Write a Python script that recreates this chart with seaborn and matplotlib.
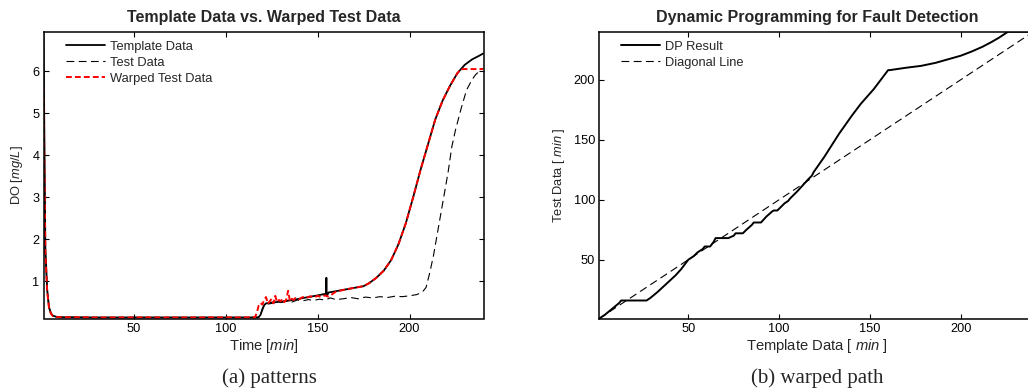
import matplotlib
matplotlib.use("Agg")
import matplotlib.pyplot as plt
import seaborn as sns

# --- panel (a): dissolved oxygen profiles -------------------------------
template_t = [1, 2, 3, 4, 5, 6, 8, 10, 15, 30, 60, 90, 110, 117, 118, 119, 120, 121, 122,
              125, 130, 135, 140, 145, 150, 154.6, 154.8, 155.0, 156, 160, 165, 170, 175, 178,
              182, 186, 190, 194, 198, 202, 206, 210, 214, 218, 222, 226, 230, 234, 238, 240]
template_do = [6.9, 1.8, 0.8, 0.38, 0.24, 0.18, 0.15, 0.14, 0.14, 0.135, 0.135, 0.135, 0.135,
               0.135, 0.14, 0.2, 0.32, 0.43, 0.47, 0.49, 0.51, 0.54, 0.58, 0.62, 0.66, 0.70,
               1.08, 0.64, 0.73, 0.76, 0.80, 0.84, 0.88, 0.95, 1.08, 1.25, 1.5, 1.88, 2.38,
               3.0, 3.65, 4.25, 4.85, 5.3, 5.65, 5.95, 6.15, 6.28, 6.37, 6.42]

test_t = [1, 2, 3, 4, 5, 6, 8, 10, 15, 30, 60, 90, 110, 118, 119, 120, 121, 122, 124, 126,
          128, 130, 133, 136, 139, 142, 145, 148, 151, 154, 157, 160, 164, 168, 172, 176, 180,
          184, 188, 192, 196, 200, 204, 207, 209, 211, 213, 215, 217, 219, 221, 223, 225, 228,
          231, 234, 236, 238, 240]
test_do = [5.6, 1.7, 0.75, 0.36, 0.23, 0.17, 0.15, 0.14, 0.14, 0.135, 0.135, 0.135, 0.135,
           0.14, 0.2, 0.35, 0.42, 0.45, 0.46, 0.48, 0.50, 0.49, 0.52, 0.50, 0.55, 0.53, 0.56,
           0.54, 0.57, 0.55, 0.60, 0.56, 0.58, 0.61, 0.58, 0.62, 0.60, 0.63, 0.61, 0.64, 0.63,
           0.65, 0.68, 0.74, 0.85, 1.2, 1.6, 2.1, 2.6, 3.1, 3.6, 4.2, 4.6, 5.1, 5.55, 5.8, 5.92,
           6.0, 6.07]

warp_t = [1, 2, 3, 4, 5, 6, 8, 10, 15, 30, 60, 90, 110, 116, 117, 118, 119, 120, 121, 122,
          123, 124, 125, 126, 127, 128, 129, 130, 131, 132, 133, 134, 135, 136, 137, 138, 140,
          142, 144, 146, 148, 150, 152, 154, 156, 158, 160, 165, 170, 175, 178, 182, 186, 190,
          194, 198, 202, 206, 210, 214, 218, 222, 226, 228, 240]
warp_do = [5.6, 1.7, 0.75, 0.36, 0.23, 0.17, 0.15, 0.14, 0.14, 0.135, 0.135, 0.135, 0.135,
           0.14, 0.25, 0.42, 0.48, 0.44, 0.56, 0.62, 0.46, 0.52, 0.58, 0.47, 0.65, 0.50, 0.55,
           0.52, 0.58, 0.50, 0.56, 0.77, 0.52, 0.58, 0.55, 0.60, 0.57, 0.62, 0.60, 0.64, 0.61,
           0.65, 0.62, 0.66, 0.63, 0.69, 0.75, 0.80, 0.84, 0.88, 0.95, 1.08, 1.25, 1.5, 1.88,
           2.38, 3.0, 3.65, 4.25, 4.85, 5.3, 5.65, 5.95, 6.05, 6.05]

# --- panel (b): warping path -------------------------------------------
dp_template = [1, 4, 8, 12, 13, 27, 29, 33, 38, 43, 46, 49, 50, 53, 55, 58, 59, 62, 64, 65,
               72, 75, 76, 80, 82, 85, 86, 90, 93, 96, 97, 99, 101, 103, 105, 106, 108, 110,
               113, 116, 118, 119, 125, 133, 140, 145, 152, 157, 160, 161, 170, 178, 186, 193,
               200, 206, 212, 217, 221, 224, 226, 241]
dp_test = [1, 4, 9, 14, 16, 16, 18, 23, 30, 37, 42, 48, 50, 53, 56, 59, 61, 61, 65, 68,
           68, 70, 72, 72, 75, 79, 81, 81, 86, 90, 91, 91, 94, 97, 99, 101, 104, 107,
           112, 117, 120, 123, 136, 155, 170, 180, 192, 202, 208, 208, 210, 211.5, 214, 217,
           220, 223.5, 227.5, 231.5, 235, 238, 240, 240]
diag_x = [1, 241]
diag_y = [1, 241]

x_ticks = [50, 100, 150, 200]
do_ticks = [1, 2, 3, 4, 5, 6]
path_ticks = [50, 100, 150, 200]

sns.set_style("white")
plt.rcParams["font.family"] = ["Liberation Sans", "DejaVu Sans"]
plt.rcParams["mathtext.fontset"] = "custom"
plt.rcParams["mathtext.rm"] = "Liberation Sans"
plt.rcParams["mathtext.it"] = "Liberation Sans:italic"

fig = plt.figure(figsize=(10.28, 3.90), dpi=100)
W, H = 1028.0, 390.0
ax1 = fig.add_axes([43.5 / W, 1 - 318.5 / H, (484 - 43.5) / W, (318.5 - 31.7) / H])
ax2 = fig.add_axes([599.3 / W, 1 - 318.5 / H, (1035.3 - 599.3) / W, (318.5 - 31.7) / H])

kw = dict(estimator=None, sort=False)
sns.lineplot(x=template_t, y=template_do, ax=ax1, color="black", linewidth=1.3,
             label="Template Data", **kw)
sns.lineplot(x=test_t, y=test_do, ax=ax1, color="black", linewidth=0.8,
             linestyle=(0, (7, 4)), label="Test Data", **kw)
sns.lineplot(x=warp_t, y=warp_do, ax=ax1, color="#ff0000", linewidth=1.4,
             linestyle=(0, (3, 1.6)), label="Warped Test Data", **kw)

sns.lineplot(x=dp_template, y=dp_test, ax=ax2, color="black", linewidth=1.4,
             label="DP Result", **kw)
sns.lineplot(x=diag_x, y=diag_y, ax=ax2, color="black", linewidth=0.8,
             linestyle=(0, (7, 4)), label="Diagonal Line", **kw)

ax1.set_xlim(1, 240.5)
ax1.set_ylim(0.11, 6.94)
ax1.set_xticks(x_ticks)
ax1.set_yticks(do_ticks)
ax1.set_title("Template Data vs. Warped Test Data", fontsize=11.5, fontweight="bold", pad=7)
ax1.set_xlabel("Time [$\\mathit{min}$]", fontsize=10.6, labelpad=2)
ax1.set_ylabel("DO [$\\mathit{mg/L}$]", fontsize=9.3, labelpad=5)

ax2.set_xlim(1, 241)
ax2.set_ylim(1, 240)
ax2.set_xticks(x_ticks)
ax2.set_yticks(path_ticks)
ax2.set_title("Dynamic Programming for Fault Detection", fontsize=11.5, fontweight="bold",
              pad=7)
ax2.set_xlabel("Template Data [ $\\mathit{min}$ ]", fontsize=10.6, labelpad=2)
ax2.set_ylabel("Test Data [ $\\mathit{min}$ ]", fontsize=9.3, labelpad=5)

for ax in (ax1, ax2):
    for s in ax.spines.values():
        s.set_visible(True)
        s.set_linewidth(1.1)
        s.set_color("black")
    ax.tick_params(direction="in", length=3.5, width=0.8, labelsize=9.2, pad=3,
                   top=True, right=True, bottom=True, left=True, colors="black")
    ax.legend(loc="upper left", frameon=False, fontsize=9.3, handlelength=3.0,
              handletextpad=0.4, labelspacing=0.3, borderaxespad=0.3,
              bbox_to_anchor=(0.03, 1.0))

fig.text(269.5 / W, 1 - 378 / H, "(a) patterns", family="Liberation Serif", fontsize=15,
         ha="center", va="center")
fig.text(817.5 / W, 1 - 378 / H, "(b) warped path", family="Liberation Serif", fontsize=15,
         ha="center", va="center")

fig.savefig("out.png", dpi=100, facecolor="white")
